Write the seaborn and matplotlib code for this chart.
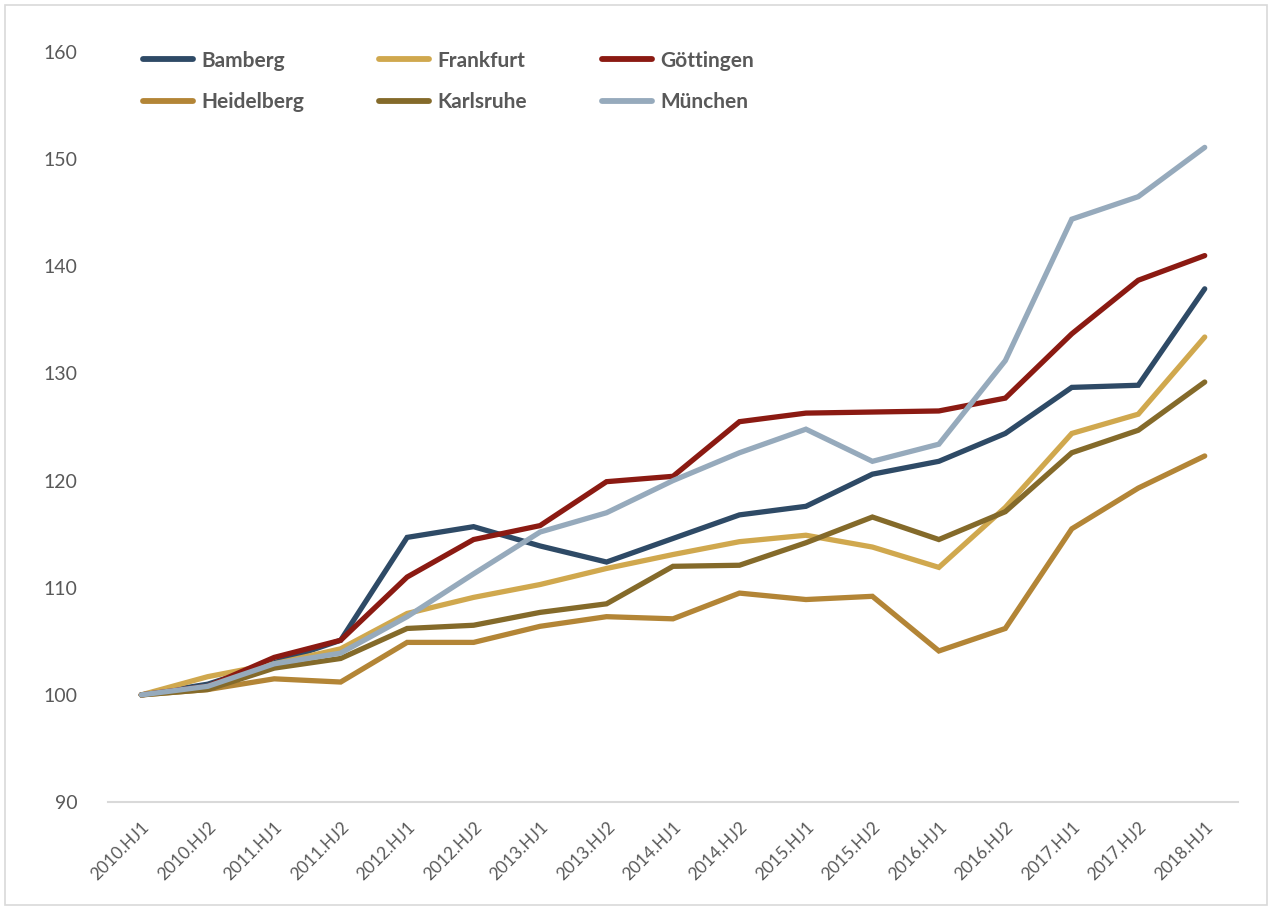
import pandas as pd
import seaborn as sns
import matplotlib.pyplot as plt
from matplotlib.patches import Rectangle

# %%
perioden = ['2010.HJ1', '2010.HJ2', '2011.HJ1', '2011.HJ2', '2012.HJ1', '2012.HJ2',
            '2013.HJ1', '2013.HJ2', '2014.HJ1', '2014.HJ2', '2015.HJ1', '2015.HJ2',
            '2016.HJ1', '2016.HJ2', '2017.HJ1', '2017.HJ2', '2018.HJ1']

bamberg = [100, 101.0, 103.0, 105.1, 114.7, 115.7, 113.9, 112.4, 114.6, 116.8,
           117.6, 120.6, 121.8, 124.4, 128.7, 128.9, 137.9]
frankfurt = [100, 101.7, 102.9, 104.3, 107.6, 109.1, 110.3, 111.8, 113.1, 114.3,
             114.9, 113.8, 111.9, 117.5, 124.4, 126.2, 133.4]
goettingen = [100, 100.8, 103.5, 105.1, 111.0, 114.5, 115.8, 119.9, 120.4, 125.5,
              126.3, 126.4, 126.5, 127.7, 133.7, 138.7, 141.0]
heidelberg = [100, 100.5, 101.5, 101.2, 104.9, 104.9, 106.4, 107.3, 107.1, 109.5,
              108.9, 109.2, 104.1, 106.2, 115.5, 119.3, 122.3]
karlsruhe = [100, 100.5, 102.5, 103.4, 106.2, 106.5, 107.7, 108.5, 112.0, 112.1,
             114.2, 116.6, 114.5, 117.1, 122.6, 124.7, 129.2]
muenchen = [100, 100.8, 102.9, 103.9, 107.3, 111.3, 115.2, 117.0, 120.0, 122.6,
            124.8, 121.8, 123.4, 131.2, 144.4, 146.5, 151.1]

staedte = {
    'Bamberg': bamberg,
    'Frankfurt': frankfurt,
    'Göttingen': goettingen,
    'Heidelberg': heidelberg,
    'Karlsruhe': karlsruhe,
    'München': muenchen,
}
farben = {
    'Bamberg': '#2E4A66',
    'Frankfurt': '#D0A84E',
    'Göttingen': '#8B1A12',
    'Heidelberg': '#B38536',
    'Karlsruhe': '#846A2A',
    'München': '#96AABC',
}

# %%
df = pd.DataFrame([
    {'Periode': p, 'Stadt': s, 'Index': v}
    for s, werte in staedte.items()
    for p, v in zip(perioden, werte)
])
df['pos'] = df['Periode'].map({p: i for i, p in enumerate(perioden)})

# %%
sns.set_theme(style='white')
plt.rcParams['font.family'] = ['Lato', 'DejaVu Sans']

fig = plt.figure(figsize=(12.71, 9.08), dpi=100)
ax = fig.add_axes([0.085, 0.1167, 0.889, 0.826])

sns.lineplot(data=df, x='pos', y='Index', hue='Stadt', palette=farben,
             linewidth=3.8, sort=False, ax=ax, legend=True)
for line in ax.lines:
    line.set_solid_capstyle('round')
    line.set_solid_joinstyle('miter')

ax.set_xlim(-0.5, len(perioden) - 0.5)
ax.set_ylim(90, 160)
ax.set_yticks(range(90, 161, 10))
ax.set_xticks(range(len(perioden)))
ax.set_xticklabels(perioden, rotation=45, ha='right', rotation_mode='anchor')
ax.tick_params(axis='x', length=0, pad=12, labelsize=12.5, labelcolor='#595959')
ax.tick_params(axis='y', length=0, pad=22, labelsize=14, labelcolor='#595959')
ax.set_xlabel('')
ax.set_ylabel('')

for side in ['top', 'right', 'left']:
    ax.spines[side].set_visible(False)
ax.spines['bottom'].set_color('#D9D9D9')
ax.spines['bottom'].set_linewidth(1.5)

# legend row by row: matplotlib fills columns first
handles, labels = ax.get_legend_handles_labels()
lookup = dict(zip(labels, handles))
reihenfolge = ['Bamberg', 'Heidelberg', 'Frankfurt', 'Karlsruhe', 'Göttingen', 'München']
leg = ax.legend([lookup[n] for n in reihenfolge], reihenfolge, ncol=3,
                loc='upper left', frameon=False,
                bbox_to_anchor=(0.031, 1.002), borderaxespad=0, borderpad=0,
                handlelength=2.4, handletextpad=0.4, columnspacing=3.6,
                labelspacing=1.05, prop={'size': 15, 'weight': 'bold'})
for t in leg.get_texts():
    t.set_color('#595959')
for h in leg.legend_handles:
    h.set_linewidth(4.2)
    h.set_solid_capstyle('round')

fig.patches.append(Rectangle((0.004, 0.003), 0.993, 0.992, transform=fig.transFigure,
                             fill=False, edgecolor='#D9D9D9', linewidth=1.2))

fig.savefig('out.png', dpi=100)
